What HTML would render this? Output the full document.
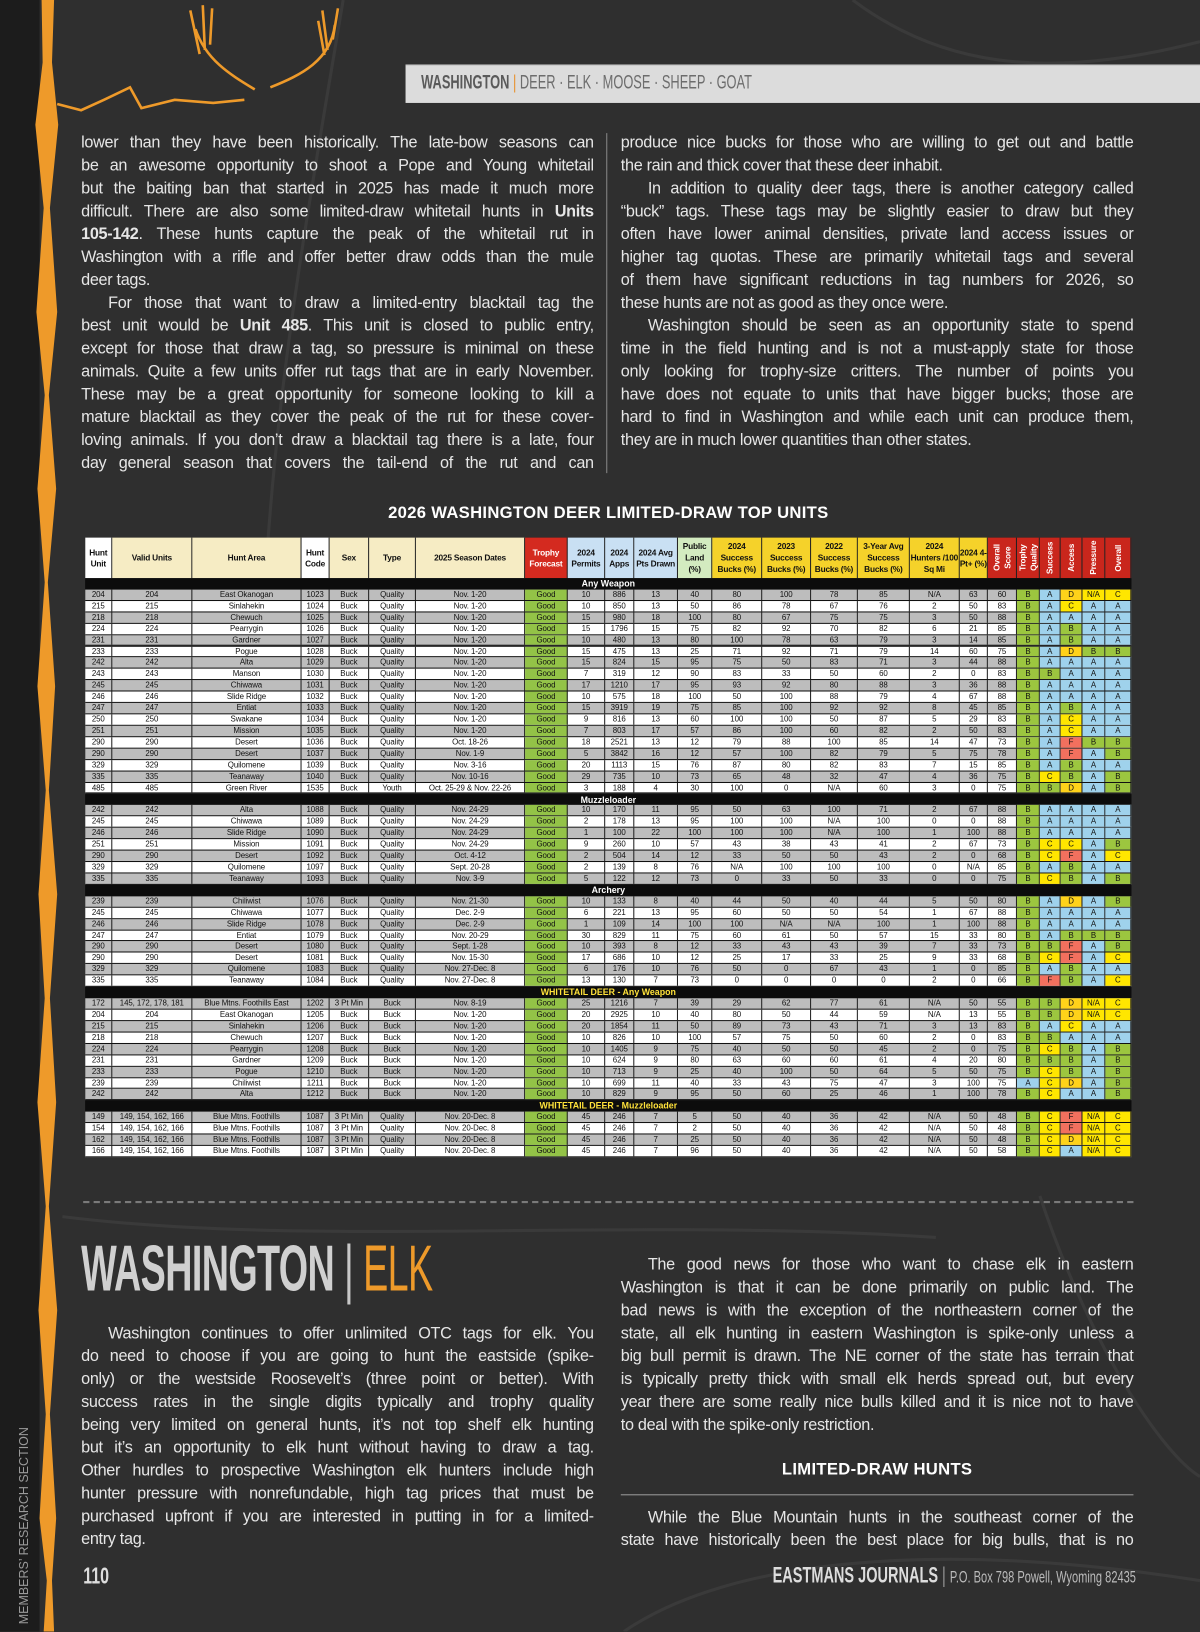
<!DOCTYPE html>
<html><head><meta charset="utf-8">
<style>
*{margin:0;padding:0;box-sizing:border-box}
body{width:1200px;height:1631px;overflow:hidden;background:#2f2f2f;font-family:"Liberation Sans",sans-serif;position:relative}
#wrap{position:absolute;left:0;top:0;width:1154px;height:1569px;transform:scale(1.03986);transform-origin:0 0}
#bg{position:absolute;left:0;top:0}
.txt{position:absolute;color:#e6e6e6;font-size:15.6px;letter-spacing:-0.3px;line-height:22px;width:493px}
.txt div{text-align:justify;text-align-last:justify;white-space:nowrap;height:22px}
.txt div.l{text-align-last:left}
.txt div.i{padding-left:26px}
#tbl{position:absolute;left:82px;top:517px;width:1006px;height:596px;background:#111;font-family:"Liberation Sans",sans-serif}
.hc{position:absolute;top:0;height:39px;border-right:1px solid #222;font-size:8px;font-weight:bold;display:flex;align-items:center;justify-content:center;text-align:center;line-height:11px;color:#111;letter-spacing:-0.2px}
.vt{writing-mode:vertical-rl;transform:rotate(180deg);color:#fff}
.row{position:absolute;left:0;width:1006px;height:10.9px;border-bottom:1px solid #111}
.c{position:absolute;top:0;height:9.9px;font-size:7.6px;line-height:9.9px;text-align:center;color:#111;border-right:1px solid #222;white-space:nowrap;overflow:hidden;letter-spacing:-0.1px}
.sec{position:absolute;left:0;width:1006px;height:10.9px;background:#0c0c0c;color:#fff;font-size:8.5px;font-weight:bold;line-height:10.9px;text-align:center}
</style></head>
<body>
<div id="wrap">
<svg id="bg" width="1154" height="1569">
<rect x="0" y="0" width="38" height="1569" fill="#1c1c1c"/>
<g fill="none" stroke="#3a3a3a" stroke-width="3">
<path d="M330 0 C280 300 240 500 250 900"/>
<path d="M820 0 C900 60 1000 80 1154 40"/>
<path d="M1000 1150 C1050 1300 1120 1400 1154 1420"/>
<path d="M600 1569 C700 1500 900 1480 1154 1520"/>
<path d="M60 1170 C300 1200 600 1170 900 1190"/>
</g>
<path d="M40 0 L52 0 L50 60 L56 120 L48 200 L55 300 L47 380 L54 470 L46 560 L53 660 L47 760 L55 860 L48 960 L54 1060 L47 1160 L55 1260 L48 1360 L54 1460 L50 1520 L52 1569 L42 1569 L45 1520 L38 1460 L44 1360 L37 1260 L44 1160 L36 1060 L43 960 L37 860 L44 760 L36 660 L43 560 L36 470 L43 380 L35 300 L42 200 L34 120 L41 60 Z" fill="#ee9a2a"/>
<g fill="none" stroke="#ee9a2a" stroke-width="2.5">
<path d="M55 100 L78 106 L100 96 L125 84 L136 104 L168 96 L205 99 L235 96"/>
<path d="M245 86 C222 72 198 58 188 28 M192 52 L183 10 M197 48 L195 5 M202 43 L204 8"/>
<path d="M260 84 C290 72 318 58 322 24 M315 48 L310 10 M320 38 L325 8 M312 53 L306 20"/>
</g>
</svg>

<div style="position:absolute;left:390px;top:62px;width:764px;height:37px;background:#dcdcdc;border-top:1px solid #bbb"></div>
<div style="position:absolute;left:405px;top:67px;font-size:19px;color:#6d6d6d;transform:scaleX(0.65);transform-origin:left;white-space:nowrap;line-height:26px"><b style="color:#5a5a5a">WASHINGTON</b> <span style="color:#e8902a">|</span> DEER · ELK · MOOSE · SHEEP · GOAT</div>

<div class="txt" style="left:78px;top:127px">
<div>lower than they have been historically. The late-bow seasons can</div>
<div>be an awesome opportunity to shoot a Pope and Young whitetail</div>
<div>but the baiting ban that started in 2025 has made it much more</div>
<div>difficult. There are also some limited-draw whitetail hunts in <b>Units</b></div>
<div><b>105-142</b>. These hunts capture the peak of the whitetail rut in</div>
<div>Washington with a rifle and offer better draw odds than the mule</div>
<div class="l">deer tags.</div>
<div class="i">For those that want to draw a limited-entry blacktail tag the</div>
<div>best unit would be <b>Unit 485</b>. This unit is closed to public entry,</div>
<div>except for those that draw a tag, so pressure is minimal on these</div>
<div>animals. Quite a few units offer rut tags that are in early November.</div>
<div>These may be a great opportunity for someone looking to kill a</div>
<div>mature blacktail as they cover the peak of the rut for these cover-</div>
<div>loving animals. If you don’t draw a blacktail tag there is a late, four</div>
<div>day general season that covers the tail-end of the rut and can</div>
</div>
<div style="position:absolute;left:583px;top:128px;width:1px;height:327px;background:#888"></div>
<div class="txt" style="left:597px;top:127px">
<div>produce nice bucks for those who are willing to get out and battle</div>
<div class="l">the rain and thick cover that these deer inhabit.</div>
<div class="i">In addition to quality deer tags, there is another category called</div>
<div>“buck” tags. These tags may be slightly easier to draw but they</div>
<div>often have lower animal densities, private land access issues or</div>
<div>higher tag quotas. These are primarily whitetail tags and several</div>
<div>of them have significant reductions in tag numbers for 2026, so</div>
<div class="l">these hunts are not as good as they once were.</div>
<div class="i">Washington should be seen as an opportunity state to spend</div>
<div>time in the field hunting and is not a must-apply state for those</div>
<div>only looking for trophy-size critters. The number of points you</div>
<div>have does not equate to units that have bigger bucks; those are</div>
<div>hard to find in Washington and while each unit can produce them,</div>
<div class="l">they are in much lower quantities than other states.</div>
</div>

<div style="position:absolute;left:82px;width:1006px;top:485px;text-align:center;color:#fff;font-weight:bold;font-size:16px;letter-spacing:0.3px">2026 WASHINGTON DEER LIMITED-DRAW TOP UNITS</div>

<div id="tbl"></div>

<div style="position:absolute;left:80px;top:1155px;width:1010px;border-top:2px dashed #7a7a7a"></div>

<div style="position:absolute;left:78px;top:1188px;white-space:nowrap;font-size:62px;line-height:66px;transform:scaleX(0.585);transform-origin:left;letter-spacing:-1px"><b style="color:#d0d0d0">WASHINGTON</b> <span style="color:#c8c8c8;font-weight:normal">|</span> <span style="color:#ee9a2a">ELK</span></div>

<div class="txt" style="left:78px;top:1272px">
<div class="i">Washington continues to offer unlimited OTC tags for elk. You</div>
<div>do need to choose if you are going to hunt the eastside (spike-</div>
<div>only) or the westside Roosevelt’s (three point or better). With</div>
<div>success rates in the single digits typically and trophy quality</div>
<div>being very limited on general hunts, it’s not top shelf elk hunting</div>
<div>but it’s an opportunity to elk hunt without having to draw a tag.</div>
<div>Other hurdles to prospective Washington elk hunters include high</div>
<div>hunter pressure with nonrefundable, high tag prices that must be</div>
<div>purchased upfront if you are interested in putting in for a limited-</div>
<div class="l">entry tag.</div>
</div>
<div class="txt" style="left:597px;top:1206px">
<div class="i">The good news for those who want to chase elk in eastern</div>
<div>Washington is that it can be done primarily on public land. The</div>
<div>bad news is with the exception of the northeastern corner of the</div>
<div>state, all elk hunting in eastern Washington is spike-only unless a</div>
<div>big bull permit is drawn. The NE corner of the state has terrain that</div>
<div>is typically pretty thick with small elk herds spread out, but every</div>
<div>year there are some really nice bulls killed and it is nice not to have</div>
<div class="l">to deal with the spike-only restriction.</div>
</div>
<div style="position:absolute;left:597px;width:493px;top:1405px;text-align:center;color:#fff;font-weight:bold;font-size:16px;letter-spacing:0.3px">LIMITED-DRAW HUNTS</div>
<div style="position:absolute;left:597px;top:1437px;width:493px;height:1px;background:#999"></div>
<div class="txt" style="left:597px;top:1449px">
<div class="i">While the Blue Mountain hunts in the southeast corner of the</div>
<div>state have historically been the best place for big bulls, that is no</div>
</div>

<div style="position:absolute;left:80px;top:1503px;color:#ddd;font-weight:bold;font-size:22px;transform:scaleX(0.7);transform-origin:left">110</div>
<div style="position:absolute;left:743px;top:1504px;white-space:nowrap;color:#ddd;transform:scaleX(0.665);transform-origin:left;font-size:21px"><b>EASTMANS JOURNALS</b> <span style="color:#999">|</span> <span style="font-size:16px;color:#bbb">P.O. Box 798 Powell, Wyoming 82435</span></div>
<div style="position:absolute;left:16px;top:1562px;white-space:nowrap;color:#9a9a9a;font-size:12px;transform:rotate(-90deg);transform-origin:left top">MEMBERS’ RESEARCH SECTION</div>
</div>

<script>
const edges=[0,26,103,208,235,273,318,423,464,500,528,570,603,651,698,743,793,841,868,896,918,938,959,981,1006];
const headers=["Hunt Unit","Valid Units","Hunt Area","Hunt Code","Sex","Type","2025 Season Dates","Trophy Forecast","2024 Permits","2024 Apps","2024 Avg Pts Drawn","Public Land (%)","2024 Success Bucks (%)","2023 Success Bucks (%)","2022 Success Bucks (%)","3-Year Avg Success Bucks (%)","2024 Hunters /100 Sq Mi","2024 4-Pt+ (%)","Overall Score","Trophy Quality","Success","Access","Pressure","Overall"];
const headerColors=["#fff","#f6ecc4","#f6ecc4","#fff","#f6ecc4","#f6ecc4","#f6ecc4","#d42a1f","#c9e0f3","#c9e0f3","#c9e0f3","#d3ebc0","#f5d22a","#f5d22a","#f5d22a","#f5d22a","#f5d22a","#f5d22a","#c9261c","#c9261c","#c9261c","#c9261c","#c9261c","#c9261c"];
const sections=["Any Weapon","Muzzleloader","Archery","WHITETAIL DEER - Any Weapon","WHITETAIL DEER - Muzzleloader"];
const anyWeapon=[
["204","204","East Okanogan","1023","Buck","Quality","Nov. 1-20","Good","10","886","13","40","80","100","78","85","N/A","63","60","B","A","D","N/A","C"],
["215","215","Sinlahekin","1024","Buck","Quality","Nov. 1-20","Good","10","850","13","50","86","78","67","76","2","50","83","B","A","C","A","A"],
["218","218","Chewuch","1025","Buck","Quality","Nov. 1-20","Good","15","980","18","100","80","67","75","75","3","50","88","B","A","A","A","A"],
["224","224","Pearrygin","1026","Buck","Quality","Nov. 1-20","Good","15","1796","15","75","82","92","70","82","6","21","85","B","A","B","A","A"],
["231","231","Gardner","1027","Buck","Quality","Nov. 1-20","Good","10","480","13","80","100","78","63","79","3","14","85","B","A","B","A","A"],
["233","233","Pogue","1028","Buck","Quality","Nov. 1-20","Good","15","475","13","25","71","92","71","79","14","60","75","B","A","D","B","B"],
["242","242","Alta","1029","Buck","Quality","Nov. 1-20","Good","15","824","15","95","75","50","83","71","3","44","88","B","A","A","A","A"],
["243","243","Manson","1030","Buck","Quality","Nov. 1-20","Good","7","319","12","90","83","33","50","60","2","0","83","B","B","A","A","A"],
["245","245","Chiwawa","1031","Buck","Quality","Nov. 1-20","Good","17","1210","17","95","93","92","80","88","3","36","88","B","A","A","A","A"],
["246","246","Slide Ridge","1032","Buck","Quality","Nov. 1-20","Good","10","575","18","100","50","100","88","79","4","67","88","B","A","A","A","A"],
["247","247","Entiat","1033","Buck","Quality","Nov. 1-20","Good","15","3919","19","75","85","100","92","92","8","45","85","B","A","B","A","A"],
["250","250","Swakane","1034","Buck","Quality","Nov. 1-20","Good","9","816","13","60","100","100","50","87","5","29","83","B","A","C","A","A"],
["251","251","Mission","1035","Buck","Quality","Nov. 1-20","Good","7","803","17","57","86","100","60","82","2","50","83","B","A","C","A","A"],
["290","290","Desert","1036","Buck","Quality","Oct. 18-26","Good","18","2521","13","12","79","88","100","85","14","47","73","B","A","F","B","B"],
["290","290","Desert","1037","Buck","Quality","Nov. 1-9","Good","5","3842","16","12","57","100","82","79","5","75","78","B","A","F","A","B"],
["329","329","Quilomene","1039","Buck","Quality","Nov. 3-16","Good","20","1113","15","76","87","80","82","83","7","15","85","B","A","B","A","A"],
["335","335","Teanaway","1040","Buck","Quality","Nov. 10-16","Good","29","735","10","73","65","48","32","47","4","36","75","B","C","B","A","B"],
["485","485","Green River","1535","Buck","Youth","Oct. 25-29 & Nov. 22-26","Good","3","188","4","30","100","0","N/A","60","3","0","75","B","B","D","A","B"]];
const muzzleloader=[
["242","242","Alta","1088","Buck","Quality","Nov. 24-29","Good","10","170","11","95","50","63","100","71","2","67","88","B","A","A","A","A"],
["245","245","Chiwawa","1089","Buck","Quality","Nov. 24-29","Good","2","178","13","95","100","100","N/A","100","0","0","88","B","A","A","A","A"],
["246","246","Slide Ridge","1090","Buck","Quality","Nov. 24-29","Good","1","100","22","100","100","100","N/A","100","1","100","88","B","A","A","A","A"],
["251","251","Mission","1091","Buck","Quality","Nov. 24-29","Good","9","260","10","57","43","38","43","41","2","67","73","B","C","C","A","B"],
["290","290","Desert","1092","Buck","Quality","Oct. 4-12","Good","2","504","14","12","33","50","50","43","2","0","68","B","C","F","A","C"],
["329","329","Quilomene","1097","Buck","Quality","Sept. 20-28","Good","2","139","8","76","N/A","100","100","100","0","N/A","85","B","A","B","A","A"],
["335","335","Teanaway","1093","Buck","Quality","Nov. 3-9","Good","5","122","12","73","0","33","50","33","0","0","75","B","C","B","A","B"]];
const archery=[
["239","239","Chiliwist","1076","Buck","Quality","Nov. 21-30","Good","10","133","8","40","44","50","40","44","5","50","80","B","A","D","A","B"],
["245","245","Chiwawa","1077","Buck","Quality","Dec. 2-9","Good","6","221","13","95","60","50","50","54","1","67","88","B","A","A","A","A"],
["246","246","Slide Ridge","1078","Buck","Quality","Dec. 2-9","Good","1","109","14","100","100","N/A","N/A","100","1","100","88","B","A","A","A","A"],
["247","247","Entiat","1079","Buck","Quality","Nov. 20-29","Good","30","829","11","75","60","61","50","57","15","33","80","B","A","B","B","B"],
["290","290","Desert","1080","Buck","Quality","Sept. 1-28","Good","10","393","8","12","33","43","43","39","7","33","73","B","B","F","A","B"],
["290","290","Desert","1081","Buck","Quality","Nov. 15-30","Good","17","686","10","12","25","17","33","25","9","33","68","B","C","F","A","C"],
["329","329","Quilomene","1083","Buck","Quality","Nov. 27-Dec. 8","Good","6","176","10","76","50","0","67","43","1","0","85","B","A","B","A","A"],
["335","335","Teanaway","1084","Buck","Quality","Nov. 27-Dec. 8","Good","13","130","7","73","0","0","0","0","2","0","66","B","F","B","A","C"]];
const whitetailAny=[
["172","145, 172, 178, 181","Blue Mtns. Foothills East","1202","3 Pt Min","Buck","Nov. 8-19","Good","25","1216","7","39","29","62","77","61","N/A","50","55","B","B","D","N/A","C"],
["204","204","East Okanogan","1205","Buck","Buck","Nov. 1-20","Good","20","2925","10","40","80","50","44","59","N/A","13","55","B","B","D","N/A","C"],
["215","215","Sinlahekin","1206","Buck","Buck","Nov. 1-20","Good","20","1854","11","50","89","73","43","71","3","13","83","B","A","C","A","A"],
["218","218","Chewuch","1207","Buck","Buck","Nov. 1-20","Good","10","826","10","100","57","75","50","60","2","0","83","B","B","A","A","A"],
["224","224","Pearrygin","1208","Buck","Buck","Nov. 1-20","Good","10","1405","9","75","40","50","50","45","2","0","75","B","C","B","A","B"],
["231","231","Gardner","1209","Buck","Buck","Nov. 1-20","Good","10","624","9","80","63","60","60","61","4","20","80","B","B","B","A","B"],
["233","233","Pogue","1210","Buck","Buck","Nov. 1-20","Good","10","713","9","25","40","100","50","64","5","50","75","B","C","B","A","B"],
["239","239","Chiliwist","1211","Buck","Buck","Nov. 1-20","Good","10","699","11","40","33","43","75","47","3","100","75","A","C","D","A","B"],
["242","242","Alta","1212","Buck","Buck","Nov. 1-20","Good","10","829","9","95","50","60","25","46","1","100","78","B","C","A","A","B"]];
const whitetailMuzz=[
["149","149, 154, 162, 166","Blue Mtns. Foothills","1087","3 Pt Min","Quality","Nov. 20-Dec. 8","Good","45","246","7","5","50","40","36","42","N/A","50","48","B","C","F","N/A","C"],
["154","149, 154, 162, 166","Blue Mtns. Foothills","1087","3 Pt Min","Quality","Nov. 20-Dec. 8","Good","45","246","7","2","50","40","36","42","N/A","50","48","B","C","F","N/A","C"],
["162","149, 154, 162, 166","Blue Mtns. Foothills","1087","3 Pt Min","Quality","Nov. 20-Dec. 8","Good","45","246","7","25","50","40","36","42","N/A","50","48","B","C","D","N/A","C"],
["166","149, 154, 162, 166","Blue Mtns. Foothills","1087","3 Pt Min","Quality","Nov. 20-Dec. 8","Good","45","246","7","96","50","40","36","42","N/A","50","58","B","C","A","N/A","C"]];
const groups=[anyWeapon,muzzleloader,archery,whitetailAny,whitetailMuzz];
const gradeColors={A:"#9fd2ec",B:"#9cc63f",C:"#ffe600",D:"#ffd21a",F:"#f2705e","N/A":"#ffe600"};

const tbl=document.getElementById('tbl');
headers.forEach((h,i)=>{
  const d=document.createElement('div');
  d.className='hc';
  
  
  d.style.left=edges[i]+'px';d.style.width=(edges[i+1]-edges[i])+'px';
  d.style.background=headerColors[i];
  if(i>=18){const s=document.createElement('span');s.className='vt';s.textContent=h;d.appendChild(s);}
  else{d.textContent=h;if(i==7)d.style.color='#fff';}
  tbl.appendChild(d);
});
const rh=557/51;let r=0;
groups.forEach((g,gi)=>{
  const s=document.createElement('div');
  s.className='sec';
  
  
  s.style.top=(39+r*rh)+'px';s.textContent=sections[gi];
  if(gi>=3)s.style.color='#ffe23a';
  tbl.appendChild(s);r++;
  g.forEach((row,ri)=>{
    const rw=document.createElement('div');
    rw.className='row';
    
    
    rw.style.top=(39+r*rh)+'px';
    const base=(ri%2==0)?'#bdbdbd':'#ffffff';
    rw.style.background=base;
    row.forEach((v,ci)=>{
      const c=document.createElement('div');
      c.className='c';
      
      
      c.style.left=edges[ci]+'px';c.style.width=(edges[ci+1]-edges[ci])+'px';
      c.textContent=v;
      if(ci==7)c.style.background='#93c347';
      if(ci>=19)c.style.background=gradeColors[v]||base;
      rw.appendChild(c);
    });
    tbl.appendChild(rw);r++;
  });
});
</script>
</body></html>
